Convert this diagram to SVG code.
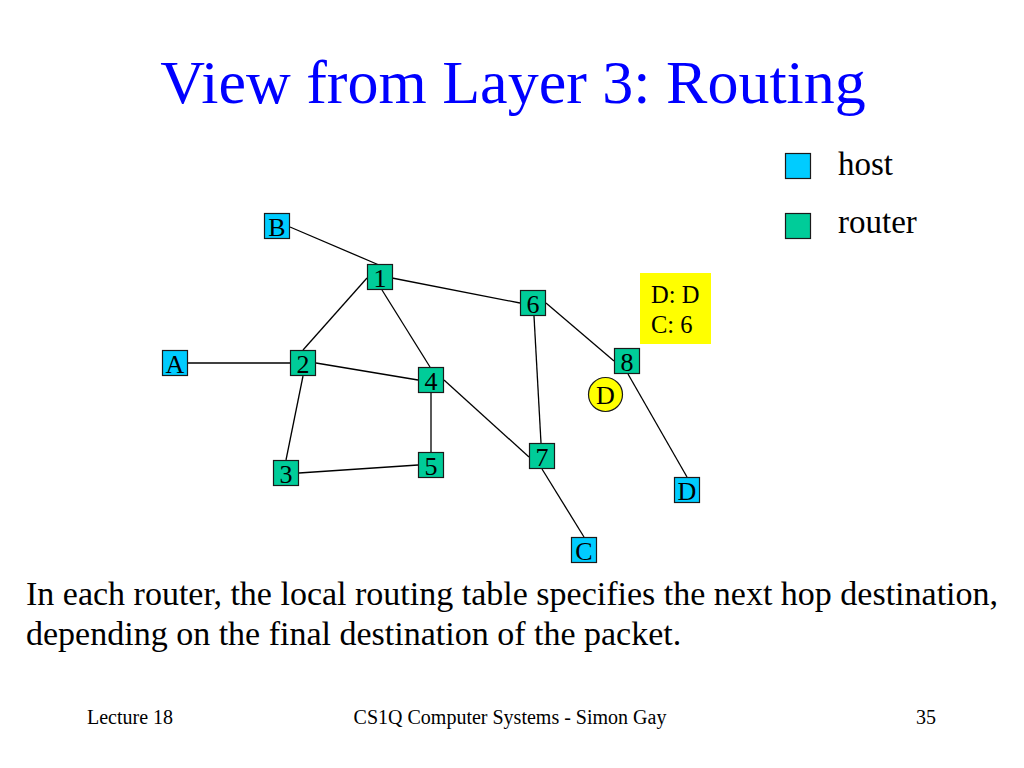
<svg xmlns="http://www.w3.org/2000/svg" width="1024" height="768" viewBox="0 0 1024 768">
<style>
text{font-family:"Liberation Serif","Times New Roman",serif;fill:#000}
.host{fill:#00CCFF;stroke:#1a1a1a;stroke-width:1.2}
.router{fill:#00CC99;stroke:#1a1a1a;stroke-width:1.2}
.lbl{font-size:26px;text-anchor:middle}
.edge{stroke:#000;stroke-width:1.3;fill:none}
</style>
<rect width="1024" height="768" fill="#fff"/>
<text x="513" y="103" font-size="62" text-anchor="middle" style="fill:#0000FF">View from Layer 3: Routing</text>
<g id="legend">
<rect class="host" x="785.5" y="153.5" width="25" height="25"/>
<text x="838" y="175" font-size="33">host</text>
<rect class="router" x="785.5" y="213.5" width="25" height="25"/>
<text x="838" y="233" font-size="33">router</text>
</g>
<g id="connectors">
<line class="edge" x1="290" y1="227" x2="379" y2="265"/>
<line class="edge" x1="392" y1="278" x2="520" y2="303"/>
<line class="edge" x1="367" y1="278" x2="303" y2="350"/>
<line class="edge" x1="382" y1="290" x2="430" y2="367"/>
<line class="edge" x1="188" y1="363" x2="290" y2="363"/>
<line class="edge" x1="316" y1="363" x2="418" y2="380"/>
<line class="edge" x1="303" y1="376" x2="286" y2="460"/>
<line class="edge" x1="431" y1="393" x2="431" y2="452"/>
<line class="edge" x1="299" y1="473" x2="418" y2="465"/>
<line class="edge" x1="444" y1="380" x2="529" y2="457"/>
<line class="edge" x1="534" y1="316" x2="541" y2="443"/>
<line class="edge" x1="546" y1="303" x2="614" y2="361"/>
<line class="edge" x1="628" y1="374" x2="687" y2="477"/>
<line class="edge" x1="542" y1="469" x2="584" y2="537"/>
</g>
<g id="node-B"><rect class="host" x="264.5" y="213.5" width="25" height="25"/><text class="lbl" x="277" y="236">B</text></g>
<g id="node-1"><rect class="router" x="367.5" y="264.5" width="25" height="25"/><text class="lbl" x="380" y="287">1</text></g>
<g id="node-A"><rect class="host" x="162.5" y="350.5" width="25" height="25"/><text class="lbl" x="175" y="373">A</text></g>
<g id="node-2"><rect class="router" x="290.5" y="350.5" width="25" height="25"/><text class="lbl" x="303" y="373">2</text></g>
<g id="node-4"><rect class="router" x="418.5" y="367.5" width="25" height="25"/><text class="lbl" x="431" y="390">4</text></g>
<g id="node-3"><rect class="router" x="273.5" y="460.5" width="25" height="25"/><text class="lbl" x="286" y="483">3</text></g>
<g id="node-5"><rect class="router" x="418.5" y="452.5" width="25" height="25"/><text class="lbl" x="431" y="475">5</text></g>
<g id="node-6"><rect class="router" x="520.5" y="290.5" width="25" height="25"/><text class="lbl" x="533" y="313">6</text></g>
<g id="node-8"><rect class="router" x="614.5" y="348.5" width="25" height="25"/><text class="lbl" x="627" y="371">8</text></g>
<g id="node-7"><rect class="router" x="529.5" y="443.5" width="25" height="25"/><text class="lbl" x="542" y="466">7</text></g>
<g id="node-Dhost"><rect class="host" x="674.5" y="477.5" width="25" height="25"/><text class="lbl" x="687" y="500">D</text></g>
<g id="node-C"><rect class="host" x="571.5" y="537.5" width="25" height="25"/><text class="lbl" x="584" y="560">C</text></g>
<g id="packet-D"><circle cx="605.5" cy="394.5" r="17" fill="#FFFF00" stroke="#1a1a1a" stroke-width="1.2"/><text class="lbl" x="605.5" y="403.5">D</text></g>
<g id="routing-table"><rect x="640" y="273" width="71" height="71" fill="#FFFF00"/>
<text x="651" y="303" font-size="24.5">D: D</text>
<text x="651" y="333" font-size="24.5">C: 6</text></g>
<text x="26" y="605" font-size="34">In each router, the local routing table specifies the next hop destination,</text>
<text x="26" y="645" font-size="34">depending on the final destination of the packet.</text>
<text x="87" y="724" font-size="20">Lecture 18</text>
<text x="510" y="724" font-size="20" text-anchor="middle">CS1Q Computer Systems - Simon Gay</text>
<text x="936" y="724" font-size="20" text-anchor="end">35</text>
</svg>
